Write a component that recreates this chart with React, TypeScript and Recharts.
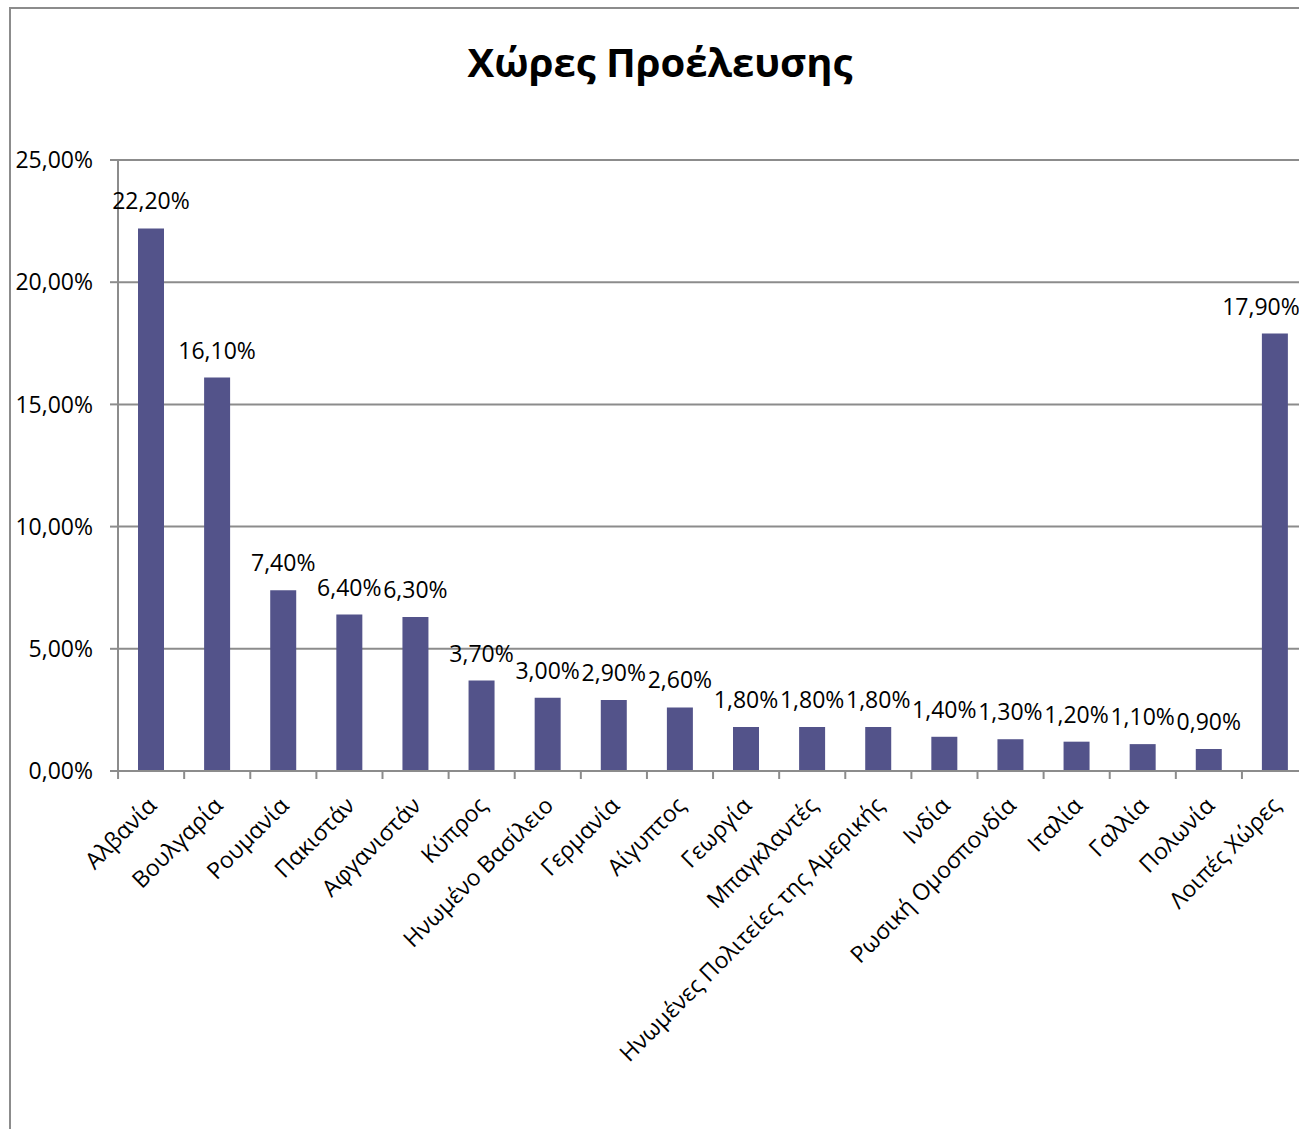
import React from "react";
import { BarChart, Bar, XAxis, YAxis, CartesianGrid, LabelList } from "recharts";

const categories = [
  "Αλβανία",
  "Βουλγαρία",
  "Ρουμανία",
  "Πακιστάν",
  "Αφγανιστάν",
  "Κύπρος",
  "Ηνωμένο Βασίλειο",
  "Γερμανία",
  "Αίγυπτος",
  "Γεωργία",
  "Μπαγκλαντές",
  "Ηνωμένες Πολιτείες της Αμερικής",
  "Ινδία",
  "Ρωσική Ομοσπονδία",
  "Ιταλία",
  "Γαλλία",
  "Πολωνία",
  "Λοιπές Χώρες",
];

const shares = [22.2, 16.1, 7.4, 6.4, 6.3, 3.7, 3.0, 2.9, 2.6, 1.8, 1.8, 1.8, 1.4, 1.3, 1.2, 1.1, 0.9, 17.9];

const yTicks = [0, 5, 10, 15, 20, 25];

const data = categories.map((name, i) => ({ name, value: shares[i] }));

const FONT = "'Open Sans', 'Noto Sans', sans-serif";
const BAR = "#53538a";
const GRID = "#8c8c8c";

const pct = (v: number) => v.toFixed(2).replace(".", ",") + "%";

function CategoryTick(props: any) {
  const { x, y, payload } = props;
  const half = 33;
  return (
    <g>
      <line x1={x - half} y1={y - 8} x2={x - half} y2={y} stroke={GRID} strokeWidth={2} />
      <text
        x={x + 7}
        y={y + 28}
        transform={`rotate(-45, ${x + 7}, ${y + 28})`}
        textAnchor="end"
        fontSize={23}
        fontFamily={FONT}
        fill="#000"
      >
        {payload.value}
      </text>
    </g>
  );
}

function ValueLabel(props: any) {
  const { x, y, width, value } = props;
  let cx = x + width / 2;
  // keep labels inside the chart area, as the spreadsheet does
  if (cx > 1261) cx = 1261;
  return (
    <text x={cx} y={y - 19} textAnchor="middle" fontSize={23} fontFamily={FONT} fill="#000">
      {pct(value)}
    </text>
  );
}

export default function App() {
  return (
    <div
      style={{
        position: "fixed",
        left: 0,
        top: 0,
        width: 1299,
        height: 1129,
        overflow: "hidden",
        background: "#fff",
      }}
    >
      <div
        style={{
          position: "absolute",
          left: 9,
          top: 7,
          width: 1400,
          height: 1200,
          borderLeft: `2px solid ${GRID}`,
          borderTop: `2px solid ${GRID}`,
        }}
      />
      <div
        style={{
          position: "absolute",
          left: 0,
          top: 34,
          width: 1320,
          textAlign: "center",
          fontFamily: FONT,
          fontWeight: 700,
          fontSize: 40,
          color: "#000",
        }}
      >
        Χώρες Προέλευσης
      </div>
      <div style={{ position: "absolute", left: 0, top: 0 }}>
        <BarChart
          width={1310}
          height={1129}
          data={data}
          margin={{ top: 160, right: 2, bottom: 58, left: 0 }}
        >
          <CartesianGrid vertical={false} stroke={GRID} strokeWidth={2} />
          <XAxis
            dataKey="name"
            interval={0}
            height={300}
            tick={<CategoryTick />}
            tickLine={false}
            axisLine={{ stroke: GRID, strokeWidth: 2 }}
          />
          <YAxis
            width={118}
            domain={[0, 25]}
            ticks={yTicks}
            tickFormatter={pct}
            tickSize={8}
            tickMargin={17}
            tickLine={{ stroke: GRID, strokeWidth: 2 }}
            axisLine={{ stroke: GRID, strokeWidth: 2 }}
            tick={{ fontSize: 23, fontFamily: FONT, fill: "#000" }}
          />
          <Bar dataKey="value" fill={BAR} barSize={26} isAnimationActive={false}>
            <LabelList dataKey="value" content={<ValueLabel />} />
          </Bar>
        </BarChart>
      </div>
    </div>
  );
}
